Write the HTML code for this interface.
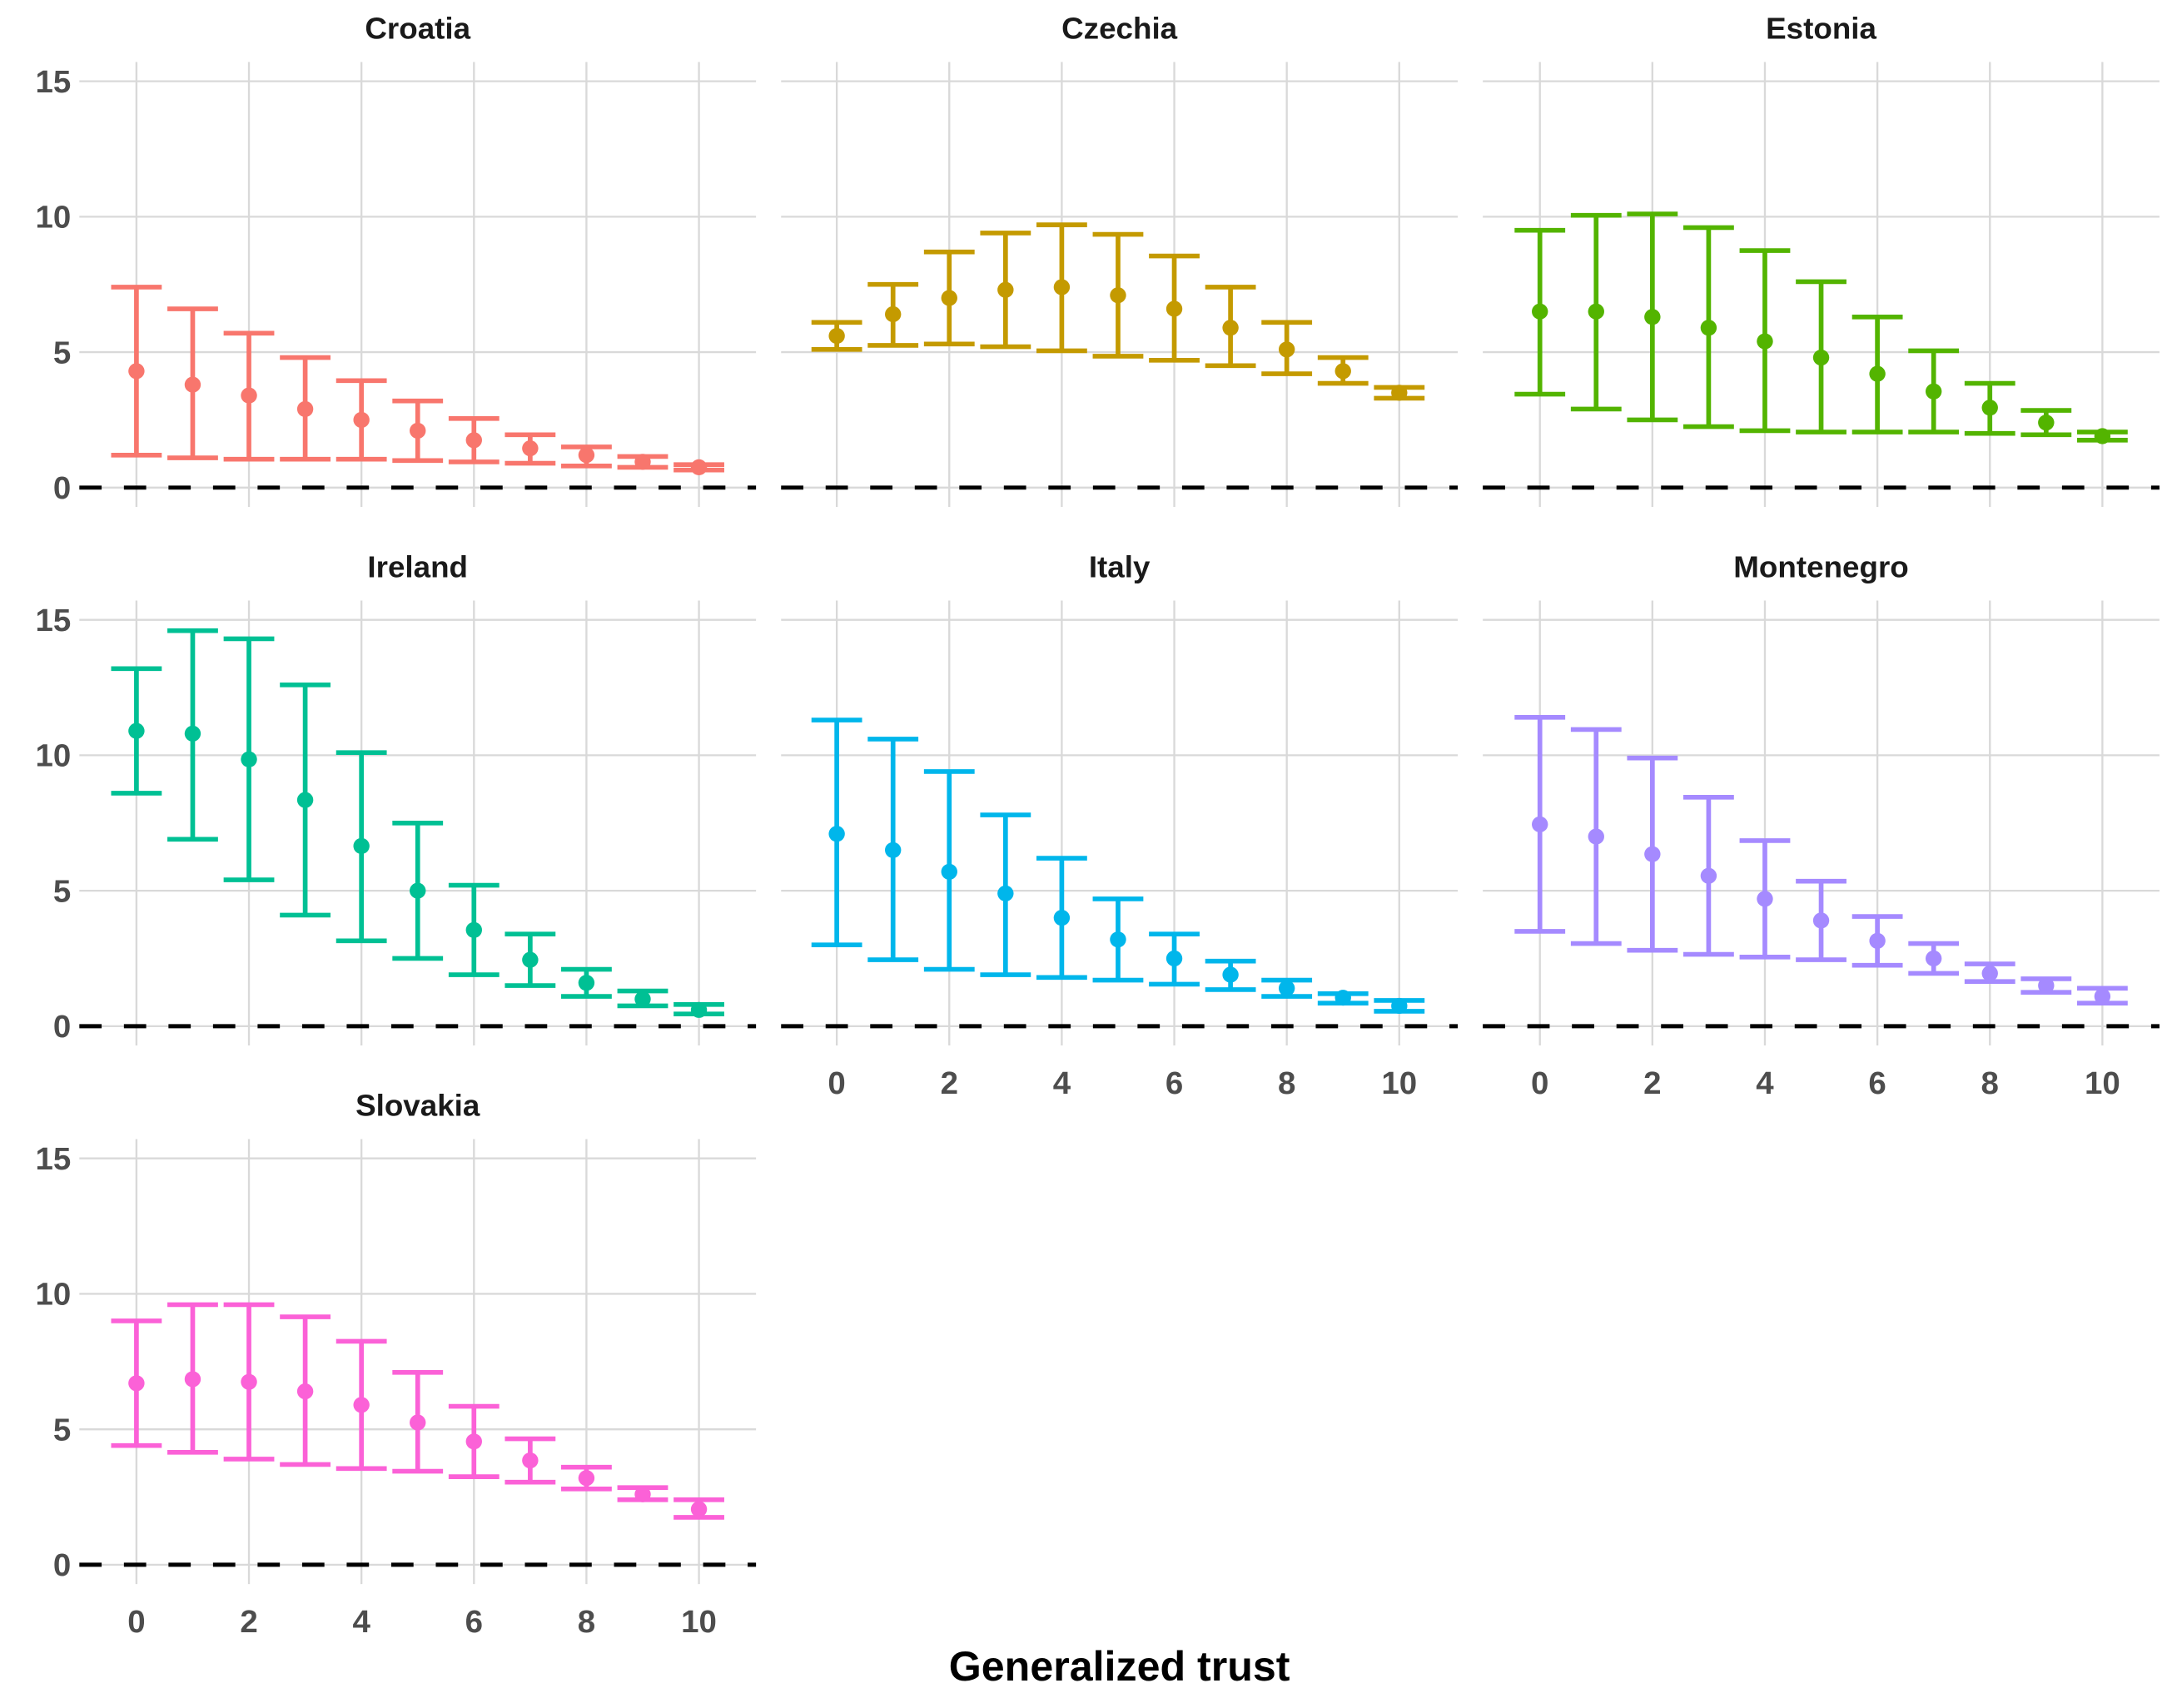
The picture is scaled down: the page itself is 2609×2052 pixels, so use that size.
<!DOCTYPE html>
<html><head><meta charset="utf-8"><style>
html,body{margin:0;padding:0;background:#fff;}
svg{display:block;}
text{font-family:"Liberation Sans",Arial,sans-serif;font-weight:bold;}
</style></head><body>
<svg id="chart" width="2609" height="2052" viewBox="0 0 1560 1240" preserveAspectRatio="none" xmlns="http://www.w3.org/2000/svg">
<text x="804" y="1220" text-anchor="middle" font-size="30" fill="#000">Generalized trust</text>
</svg>
<script>
const countries = ["Croatia","Czechia","Estonia","Ireland","Italy","Montenegro","Slovakia"];
const colors = ["#F8766D","#C49A00","#53B400","#00C094","#00B6EB","#A58AFF","#FB61D7"];
const trustLevels = [0,1,2,3,4,5,6,7,8,9,10];
const xTicks = [0,2,4,6,8,10];
const yTicks = [0,5,10,15];
const meanCroatia = [4.3,3.8,3.4,2.9,2.5,2.1,1.75,1.45,1.2,0.95,0.75];
const loCroatia = [1.2,1.1,1.05,1.05,1.05,1.0,0.95,0.9,0.8,0.75,0.65];
const hiCroatia = [7.4,6.6,5.7,4.8,3.95,3.2,2.55,1.95,1.5,1.15,0.85];
const meanCzechia = [5.6,6.4,7.0,7.3,7.4,7.1,6.6,5.9,5.1,4.3,3.5];
const loCzechia = [5.1,5.25,5.3,5.2,5.05,4.85,4.7,4.5,4.2,3.85,3.3];
const hiCzechia = [6.1,7.5,8.7,9.4,9.7,9.35,8.55,7.4,6.1,4.8,3.7];
const meanEstonia = [6.5,6.5,6.3,5.9,5.4,4.8,4.2,3.55,2.95,2.4,1.9];
const loEstonia = [3.45,2.9,2.5,2.25,2.1,2.05,2.05,2.05,2.0,1.95,1.75];
const hiEstonia = [9.5,10.05,10.1,9.6,8.75,7.6,6.3,5.05,3.85,2.85,2.05];
const meanIreland = [10.9,10.8,9.85,8.35,6.65,5.0,3.55,2.45,1.6,1.0,0.6];
const loIreland = [8.6,6.9,5.4,4.1,3.15,2.5,1.9,1.5,1.1,0.75,0.45];
const hiIreland = [13.2,14.6,14.3,12.6,10.1,7.5,5.2,3.4,2.1,1.3,0.8];
const meanItaly = [7.1,6.5,5.7,4.9,4.0,3.2,2.5,1.9,1.4,1.05,0.75];
const loItaly = [3.0,2.45,2.1,1.9,1.8,1.7,1.55,1.35,1.1,0.85,0.55];
const hiItaly = [11.3,10.6,9.4,7.8,6.2,4.7,3.4,2.4,1.7,1.2,0.95];
const meanMontenegro = [7.45,7.0,6.35,5.55,4.7,3.9,3.15,2.5,1.95,1.5,1.1];
const loMontenegro = [3.5,3.05,2.8,2.65,2.55,2.45,2.25,1.95,1.65,1.25,0.85];
const hiMontenegro = [11.4,10.95,9.9,8.45,6.85,5.35,4.05,3.05,2.3,1.75,1.4];
const meanSlovakia = [6.7,6.85,6.75,6.4,5.9,5.25,4.55,3.85,3.2,2.6,2.05];
const loSlovakia = [4.4,4.15,3.9,3.7,3.55,3.45,3.25,3.05,2.8,2.4,1.75];
const hiSlovakia = [9.0,9.6,9.6,9.15,8.25,7.1,5.85,4.65,3.6,2.85,2.4];
const means = [meanCroatia,meanCzechia,meanEstonia,meanIreland,meanItaly,meanMontenegro,meanSlovakia];
const los = [loCroatia,loCzechia,loEstonia,loIreland,loItaly,loMontenegro,loSlovakia];
const his = [hiCroatia,hiCzechia,hiEstonia,hiIreland,hiItaly,hiMontenegro,hiSlovakia];

const NS="http://www.w3.org/2000/svg";
const svg=document.getElementById('chart');
function mk(tag,attrs,parent){const e=document.createElementNS(NS,tag);for(const k in attrs)e.setAttribute(k,attrs[k]);(parent||svg).appendChild(e);return e;}
const colLeft=[57,561,1065], colX0=[98,601,1106], pw=486;
const rowY0=[354,745,1136];
const xUnit=(1510-1106)/10, yUnit=(354-59)/15;
countries.forEach((name,i)=>{
  const r=Math.floor(i/3), c=i%3;
  const g=mk('g',{});
  
  
  const xs=v=>colX0[c]+v*xUnit, ys=v=>rowY0[r]-v*yUnit;
  const top=ys(15)-14, bot=ys(0)+14;
  yTicks.forEach(t=>{const l=mk('line',{x1:colLeft[c],x2:colLeft[c]+pw,y1:ys(t),y2:ys(t),stroke:'#d9d9d9','stroke-width':1.4},g);
    });
  xTicks.forEach(t=>{const l=mk('line',{x1:xs(t),x2:xs(t),y1:top,y2:bot,stroke:'#d9d9d9','stroke-width':1.4},g);
    });
  const z=mk('line',{x1:colLeft[c],x2:colLeft[c]+pw,y1:ys(0),y2:ys(0),stroke:'#000','stroke-width':3,'stroke-dasharray':'16,16'},g);
  
  const tt=mk('text',{x:colLeft[c]+pw/2,y:ys(15)-31,'text-anchor':'middle','font-size':22,fill:'#1a1a1a'},g);
  tt.textContent=name;
  
  if(c===0){yTicks.forEach(t=>{const e=mk('text',{x:51,y:ys(t)+8,'text-anchor':'end','font-size':23,fill:'#4d4d4d'},g);e.textContent=t;
    });}
  if(r===2||(r===1&&c>0)){xTicks.forEach(t=>{const e=mk('text',{x:xs(t),y:ys(0)+49,'text-anchor':'middle','font-size':23,fill:'#4d4d4d'},g);e.textContent=t;
    });}
  trustLevels.forEach((tv,j)=>{
    const x=xs(tv), cw=0.45*xUnit, col=colors[i];
    const eb=mk('g',{stroke:col,'stroke-width':3.4},g);
    
    mk('line',{x1:x,x2:x,y1:ys(los[i][j]),y2:ys(his[i][j])},eb);
    mk('line',{x1:x-cw,x2:x+cw,y1:ys(los[i][j]),y2:ys(los[i][j])},eb);
    mk('line',{x1:x-cw,x2:x+cw,y1:ys(his[i][j]),y2:ys(his[i][j])},eb);
    const p=mk('circle',{cx:x,cy:ys(means[i][j]),r:5.8,fill:col},g);
    
  });
});
</script>
</body></html>
